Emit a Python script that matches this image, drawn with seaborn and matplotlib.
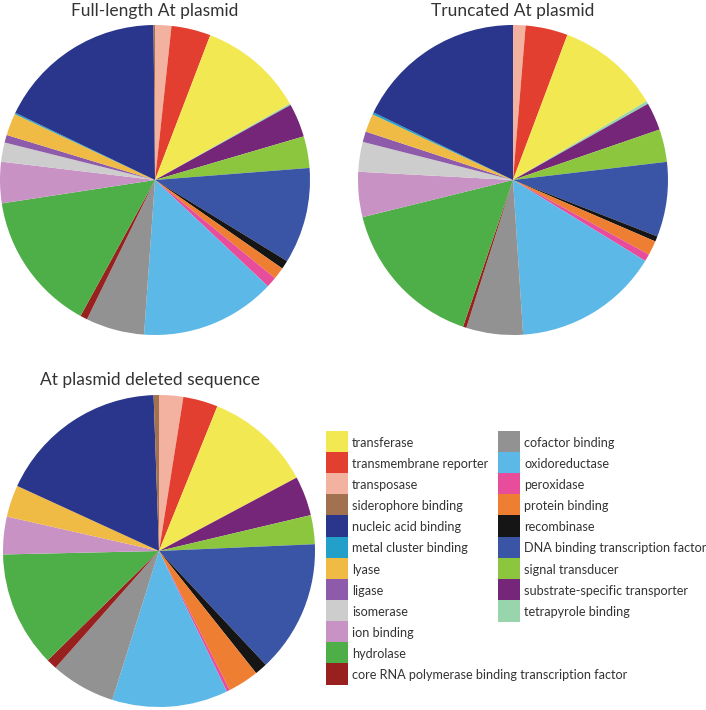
import numpy as np
import matplotlib
matplotlib.use("Agg")
import matplotlib.pyplot as plt
import seaborn as sns
from matplotlib.lines import Line2D

# slice order, clockwise from 12 o'clock
categories = [
    "transposase", "transmembrane reporter", "transferase", "tetrapyrole binding",
    "substrate-specific transporter", "signal transducer", "DNA binding transcription factor",
    "recombinase", "protein binding", "peroxidase", "oxidoreductase", "cofactor binding",
    "core RNA polymerase binding transcription factor", "hydrolase", "ion binding",
    "isomerase", "ligase", "lyase", "metal cluster binding", "nucleic acid binding",
    "siderophore binding",
]

full_length = [1.7, 4.1, 11.0, 0.15, 3.5, 3.3, 10.0, 0.9, 1.25, 1.1, 14.1, 6.1,
               0.75, 14.6, 4.3, 2.0, 0.8, 2.3, 0.15, 17.7, 0.15]
truncated = [1.3, 4.4, 10.8, 0.3, 2.9, 3.4, 7.8, 0.55, 1.5, 0.75, 15.2, 5.9,
             0.36, 15.9, 4.7, 3.1, 1.1, 1.9, 0.22, 17.8, 0.0]
deleted = [2.5, 3.6, 11.1, 0.0, 4.1, 3.0, 13.7, 1.3, 3.2, 0.33, 12.0, 6.7,
           1.1, 12.0, 3.9, 0.0, 0.0, 3.3, 0.0, 17.6, 0.55]

titles = ["Full-length At plasmid", "Truncated At plasmid", "At plasmid deleted sequence"]

colors = {
    "transferase": "#F2E952",
    "transmembrane reporter": "#E33F31",
    "transposase": "#F2B29F",
    "siderophore binding": "#A27150",
    "nucleic acid binding": "#29368B",
    "metal cluster binding": "#22A0C9",
    "lyase": "#F0BB45",
    "ligase": "#8D5BA9",
    "isomerase": "#CDCDCD",
    "ion binding": "#C992C5",
    "hydrolase": "#4EAE47",
    "core RNA polymerase binding transcription factor": "#98211F",
    "cofactor binding": "#929292",
    "oxidoreductase": "#5CB8E6",
    "peroxidase": "#E84D9C",
    "protein binding": "#EE7E31",
    "recombinase": "#151515",
    "DNA binding transcription factor": "#3A55A6",
    "signal transducer": "#8CC63F",
    "substrate-specific transporter": "#762679",
    "tetrapyrole binding": "#98D5AC",
}

legend_col1 = ["transferase", "transmembrane reporter", "transposase", "siderophore binding",
               "nucleic acid binding", "metal cluster binding", "lyase", "ligase", "isomerase",
               "ion binding", "hydrolase", "core RNA polymerase binding transcription factor"]
legend_col2 = ["cofactor binding", "oxidoreductase", "peroxidase", "protein binding",
               "recombinase", "DNA binding transcription factor", "signal transducer",
               "substrate-specific transporter", "tetrapyrole binding"]

sns.set_theme(style="white")
plt.rcParams["font.family"] = ["Lato", "DejaVu Sans"]

W, H = 706, 710
fig = plt.figure(figsize=(W / 100, H / 100), dpi=100)
palette = sns.color_palette([colors[c] for c in categories])


def add_pie(cx, cy, r, values, title, tx, ty):
    ax = fig.add_axes([(cx - r) / W, 1 - (cy + r) / H, 2 * r / W, 2 * r / H])
    ax.pie(values, colors=palette, startangle=90, counterclock=False,
           wedgeprops=dict(linewidth=0))
    ax.set_xlim(-1, 1)
    ax.set_ylim(-1, 1)
    ax.set_aspect("equal")
    ax.axis("off")
    fig.text(tx / W, 1 - ty / H, title, ha="center", va="center",
             fontsize=12.5, color="#333333")


add_pie(155, 180, 155, full_length, titles[0], 155, 11)
add_pie(513, 180, 155, truncated, titles[1], 513, 11)
add_pie(159, 551, 156, deleted, titles[2], 150, 380)


def square(c):
    return Line2D([], [], marker="s", linestyle="none", markersize=15.5,
                  markerfacecolor=colors[c], markeredgewidth=0)


leg_kw = dict(frameon=False, fontsize=9.1, handlelength=1.45, handleheight=1.0,
              handletextpad=0.45, labelspacing=0.72, labelcolor="#333333", loc="upper left",
              borderpad=0, borderaxespad=0)
fig.legend([square(c) for c in legend_col1], legend_col1,
           bbox_to_anchor=(328 / W, 1 - 437 / H), **leg_kw)
fig.legend([square(c) for c in legend_col2], legend_col2,
           bbox_to_anchor=(500 / W, 1 - 437 / H), **leg_kw)

fig.savefig("out.png", dpi=100)
